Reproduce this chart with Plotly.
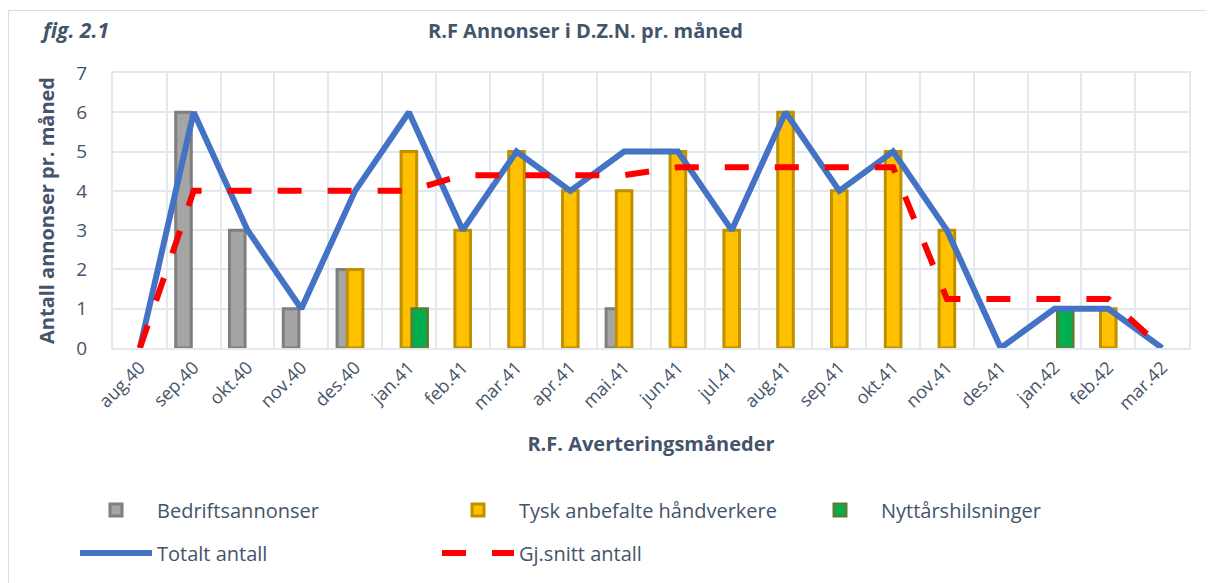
import plotly.graph_objects as go

months = ["aug.40", "sep.40", "okt.40", "nov.40", "des.40", "jan.41", "feb.41", "mar.41",
          "apr.41", "mai.41", "jun.41", "jul.41", "aug.41", "sep.41", "okt.41", "nov.41",
          "des.41", "jan.42", "feb.42", "mar.42"]
bedrift = [0, 6, 3, 1, 2, 0, 0, 0, 0, 1, 0, 0, 0, 0, 0, 0, 0, 0, 0, 0]
tysk = [0, 0, 0, 0, 2, 5, 3, 5, 4, 4, 5, 3, 6, 4, 5, 3, 0, 0, 1, 0]
nyttar = [0, 0, 0, 0, 0, 1, 0, 0, 0, 0, 0, 0, 0, 0, 0, 0, 0, 1, 0, 0]
totalt = [0, 6, 3, 1, 4, 6, 3, 5, 4, 5, 5, 3, 6, 4, 5, 3, 0, 1, 1, 0]
snitt = [0, 4, 4, 4, 4, 4, 4.4, 4.4, 4.4, 4.4, 4.6, 4.6, 4.6, 4.6, 4.6, 1.25, 1.25, 1.25, 1.25, 0]

TXT = "#44546A"
GRID = "#E3E7EE"
FONT = "Open Sans"
OFF = 8  # page offset of the figure (body margin)


def nz(v):
    return [x if x != 0 else None for x in v]


xi = list(range(len(months)))
BW = 0.29

# plot area in page pixels: x 113..1189, y 73..348
L = 113 - OFF
T = 73 - OFF
R = 1214 - (1189 - OFF)
B = 583 - (348 - OFF)
W = 1214 - L - R
H = 583 - T - B


def px_x(p):
    return (p - OFF - L) / W


def px_y(p):
    return (583 - B - (p - OFF)) / H


fig = go.Figure()
fig.add_trace(go.Bar(x=xi, y=nz(bedrift), name="Bedriftsannonser", width=BW, offset=-0.19 - BW / 2,
                     marker=dict(color="#A5A5A5", line=dict(color="#7F7F7F", width=3)), legend="legend"))
fig.add_trace(go.Bar(x=xi, y=nz(tysk), name="Tysk anbefalte håndverkere", width=BW, offset=0.0 - BW / 2,
                     marker=dict(color="#FFC000", line=dict(color="#BF9000", width=3)), legend="legend"))
fig.add_trace(go.Bar(x=xi, y=nz(nyttar), name="Nyttårshilsninger", width=BW, offset=0.2 - BW / 2,
                     marker=dict(color="#00B050", line=dict(color="#548235", width=3)), legend="legend"))
fig.add_trace(go.Scatter(x=xi, y=totalt, name="Totalt antall", mode="lines",
                         line=dict(color="#4472C4", width=6), legend="legend2"))
fig.add_trace(go.Scatter(x=xi, y=snitt, name="Gj.snitt antall", mode="lines",
                         line=dict(color="#FF0000", width=6, dash="24px,26px"), legend="legend2"))

leg_common = dict(orientation="h", xanchor="left", yanchor="middle",
                  entrywidth=275, entrywidthmode="pixels", itemwidth=72,
                  font=dict(size=20, color=TXT, family=FONT), traceorder="normal",
                  bgcolor="rgba(0,0,0,0)")

fig.update_layout(
    width=1214, height=583,
    margin=dict(l=L, r=R, t=T, b=B),
    paper_bgcolor="white", plot_bgcolor="white",
    barmode="overlay",
    font=dict(family=FONT, color=TXT, size=17),
    showlegend=True,
    legend=dict(x=px_x(75), y=px_y(510), **leg_common),
    legend2=dict(x=px_x(75), y=px_y(553), **leg_common),
    shapes=[dict(type="rect", xref="paper", yref="paper", x0=px_x(8.5), x1=px_x(1225),
                 y0=px_y(595), y1=px_y(10.5), line=dict(color="#D9DDE3", width=1), layer="below")],
    annotations=[
        dict(text="<b><i>fig. 2.1</i></b>", xref="paper", yref="paper", x=px_x(38), y=px_y(30),
             xanchor="left", yanchor="middle", showarrow=False, font=dict(size=21, color=TXT)),
        dict(text="<b>R.F Annonser i D.Z.N. pr. måned</b>", xref="paper", yref="paper",
             x=px_x(585), y=px_y(30), xanchor="center", yanchor="middle", showarrow=False,
             font=dict(size=20, color=TXT)),
    ],
)
fig.update_xaxes(
    tickmode="array", tickvals=xi, ticktext=months, range=[-0.5, len(months) - 0.5],
    tickangle=-45, tickfont=dict(size=18, color=TXT),
    showgrid=False, showline=True, linecolor=GRID, linewidth=2, mirror=True,
    title=dict(text="<b>R.F. Averteringsmåneder</b>", font=dict(size=20, color=TXT), standoff=24),
    ticks="", zeroline=False,
    minor=dict(tickmode="array", tickvals=[i + 0.5 for i in xi[:-1]],
               showgrid=True, gridcolor=GRID, gridwidth=2),
)
fig.update_yaxes(
    range=[0, 7], dtick=1, tick0=0, showgrid=True, gridcolor=GRID, gridwidth=2,
    zeroline=False, showline=True, linecolor=GRID, linewidth=2, mirror=True,
    tickfont=dict(size=19, color=TXT), ticklabelstandoff=20,
    title=dict(text="<b>Antall annonser pr. måned</b>", font=dict(size=20, color=TXT), standoff=16),
)

fig.write_html("out.html")
